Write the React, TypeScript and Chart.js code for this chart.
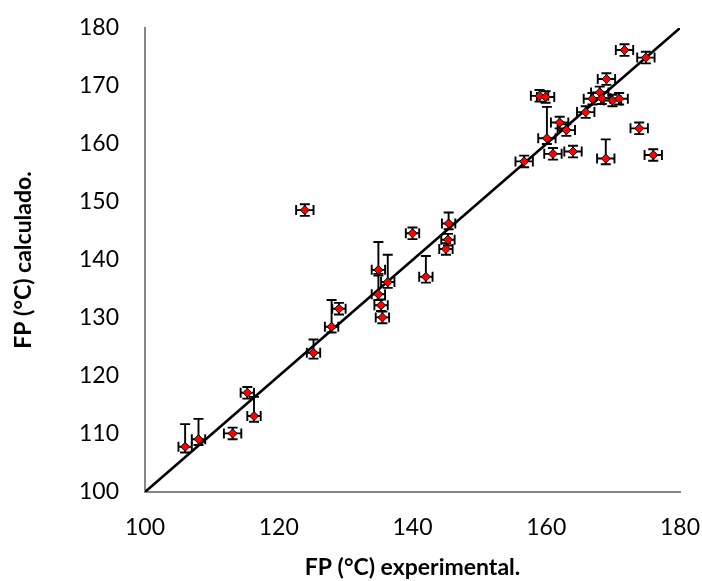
import React, { useEffect, useRef } from "react";
import { Chart, registerables } from "chart.js";

Chart.register(...registerables);

// Flash point (°C): experimental vs. calculated
const fpExperimental = [
  106.0, 108.0, 113.1, 115.3, 116.3, 123.9, 125.2, 127.9, 129.0, 134.9,
  136.3, 134.9, 135.3, 135.5, 140.0, 142.0, 145.4, 145.3, 145.0, 156.7,
  160.1, 161.0, 162.0, 163.0, 164.0, 165.9, 168.9, 173.9, 176.0, 171.7,
  174.9, 169.0, 168.0, 166.9, 168.3, 169.9, 170.9, 159.0, 159.9,
];
const fpCalculated = [
  107.8, 109.1, 110.1, 117.1, 113.1, 148.6, 124.0, 128.5, 131.6, 138.3,
  136.2, 134.1, 132.2, 130.1, 144.6, 137.1, 146.3, 143.5, 141.9, 157.0,
  161.0, 158.3, 163.7, 162.4, 158.7, 165.5, 157.5, 162.7, 158.1, 176.2,
  174.9, 171.2, 168.9, 167.8, 167.9, 167.5, 167.8, 168.3, 168.1,
];
// Error bars: ± on the experimental value, +/- on the calculated value
const errExperimental = [
  1.0, 1.0, 1.3, 1.0, 1.0, 1.3, 1.0, 1.0, 1.0, 1.0,
  1.0, 1.0, 1.0, 1.0, 1.0, 1.0, 1.0, 1.0, 1.0, 1.3,
  1.3, 1.3, 1.3, 1.3, 1.3, 1.3, 1.3, 1.3, 1.3, 1.3,
  1.3, 1.3, 1.3, 1.3, 1.3, 1.3, 1.3, 1.3, 1.3,
];
const errCalculatedUp = [
  3.9, 3.5, 1.0, 1.0, 3.3, 1.0, 2.3, 4.6, 1.0, 4.8,
  4.7, 3.5, 1.0, 1.0, 1.0, 3.6, 1.9, 1.0, 1.0, 1.0,
  5.4, 1.0, 1.0, 1.0, 1.0, 1.0, 3.3, 1.0, 1.0, 1.0,
  1.0, 1.0, 1.0, 1.0, 1.0, 1.0, 1.0, 1.0, 1.0,
];
const errCalculatedDown = [
  1.0, 1.0, 1.0, 1.0, 1.0, 1.0, 1.0, 1.0, 1.0, 1.0,
  1.0, 1.0, 1.0, 1.0, 1.0, 1.0, 1.0, 1.0, 1.0, 1.0,
  1.0, 1.0, 1.0, 1.0, 1.0, 1.0, 1.0, 1.0, 1.0, 1.0,
  1.0, 1.0, 1.0, 1.0, 1.0, 1.0, 1.0, 1.0, 1.0,
];

const axisMin = 100;
const axisMax = 180;
const xStep = 20;
const yStep = 10;

const xTitle = "FP (°C) experimental.";
const yTitle = "FP (°C) calculado.";

const FONT = "Lato, 'Open Sans', sans-serif";

// Draws the error bars just before the marker dataset so markers sit on top
const errorBarPlugin = {
  id: "errorBars",
  beforeDatasetDraw(chart: any, args: any) {
    if (args.index !== 0) return;
    const { ctx } = chart;
    const xs = chart.scales.x;
    const ys = chart.scales.y;
    const cap = 5;
    ctx.save();
    ctx.strokeStyle = "#000000";
    ctx.lineWidth = 1.9;
    fpExperimental.forEach((vx, i) => {
      const vy = fpCalculated[i];
      const px = xs.getPixelForValue(vx);
      const py = ys.getPixelForValue(vy);
      const xl = xs.getPixelForValue(vx - errExperimental[i]);
      const xr = xs.getPixelForValue(vx + errExperimental[i]);
      const yt = ys.getPixelForValue(vy + errCalculatedUp[i]);
      const yb = ys.getPixelForValue(vy - errCalculatedDown[i]);
      ctx.beginPath();
      ctx.moveTo(xl, py);
      ctx.lineTo(xr, py);
      ctx.moveTo(xl, py - cap);
      ctx.lineTo(xl, py + cap);
      ctx.moveTo(xr, py - cap);
      ctx.lineTo(xr, py + cap);
      ctx.moveTo(px, yt);
      ctx.lineTo(px, yb);
      ctx.moveTo(px - cap, yt);
      ctx.lineTo(px + cap, yt);
      ctx.moveTo(px - cap, yb);
      ctx.lineTo(px + cap, yb);
      ctx.stroke();
    });
    ctx.restore();
  },
};

// Fixed scale box sizes; label overflow is allowed to spill into the margins
const fixScaleBox = (size: { width?: number; height?: number }) => (scale: any) => {
  if (size.width !== undefined) scale.width = size.width;
  if (size.height !== undefined) scale.height = size.height;
  scale.paddingTop = 0;
  scale.paddingBottom = 0;
  scale.paddingLeft = 0;
  scale.paddingRight = 0;
};

export default function App() {
  const canvasRef = useRef<HTMLCanvasElement | null>(null);

  useEffect(() => {
    if (!canvasRef.current) return;
    const points = fpExperimental.map((x, i) => ({ x, y: fpCalculated[i] }));
    const chart = new Chart(canvasRef.current, {
      type: "scatter",
      data: {
        datasets: [
          {
            label: "FP",
            data: points,
            pointStyle: "rectRot",
            pointRadius: 4.5,
            backgroundColor: "#ff0000",
            borderColor: "#000000",
            borderWidth: 1,
            showLine: false,
          },
          {
            label: "y = x",
            data: [
              { x: axisMin, y: axisMin },
              { x: axisMax, y: axisMax },
            ],
            showLine: true,
            borderColor: "#000000",
            borderWidth: 2.6,
            pointRadius: 0,
            fill: false,
          },
        ],
      },
      options: {
        animation: false,
        responsive: false,
        maintainAspectRatio: false,
        layout: { padding: { left: 0, top: 28, right: 22, bottom: 0 } },
        plugins: {
          legend: { display: false },
          tooltip: { enabled: false },
        },
        scales: {
          x: {
            type: "linear",
            min: axisMin,
            max: axisMax,
            grid: { display: false, drawTicks: false },
            border: { display: true, color: "#868686", width: 2 },
            ticks: {
              stepSize: xStep,
              padding: 22,
              color: "#000000",
              font: { family: FONT, size: 23 },
            },
            title: {
              display: true,
              text: xTitle,
              color: "#000000",
              font: { family: FONT, size: 23, weight: "bold" },
              padding: { top: 0, bottom: 0 },
            },
            afterFit: fixScaleBox({ height: 89 }),
          },
          y: {
            type: "linear",
            min: axisMin,
            max: axisMax,
            grid: { display: false, drawTicks: false },
            border: { display: true, color: "#868686", width: 2 },
            ticks: {
              stepSize: yStep,
              padding: 26,
              color: "#000000",
              font: { family: FONT, size: 23 },
            },
            title: {
              display: true,
              text: yTitle,
              color: "#000000",
              font: { family: FONT, size: 23, weight: "bold" },
              padding: { top: 10, bottom: 0 },
            },
            afterFit: fixScaleBox({ width: 145 }),
          },
        },
      },
      plugins: [errorBarPlugin],
    });
    return () => chart.destroy();
  }, []);

  return (
    <div style={{ position: "absolute", left: 0, top: 0, width: 702, height: 581, background: "#ffffff" }}>
      <canvas ref={canvasRef} width={702} height={581} />
    </div>
  );
}
